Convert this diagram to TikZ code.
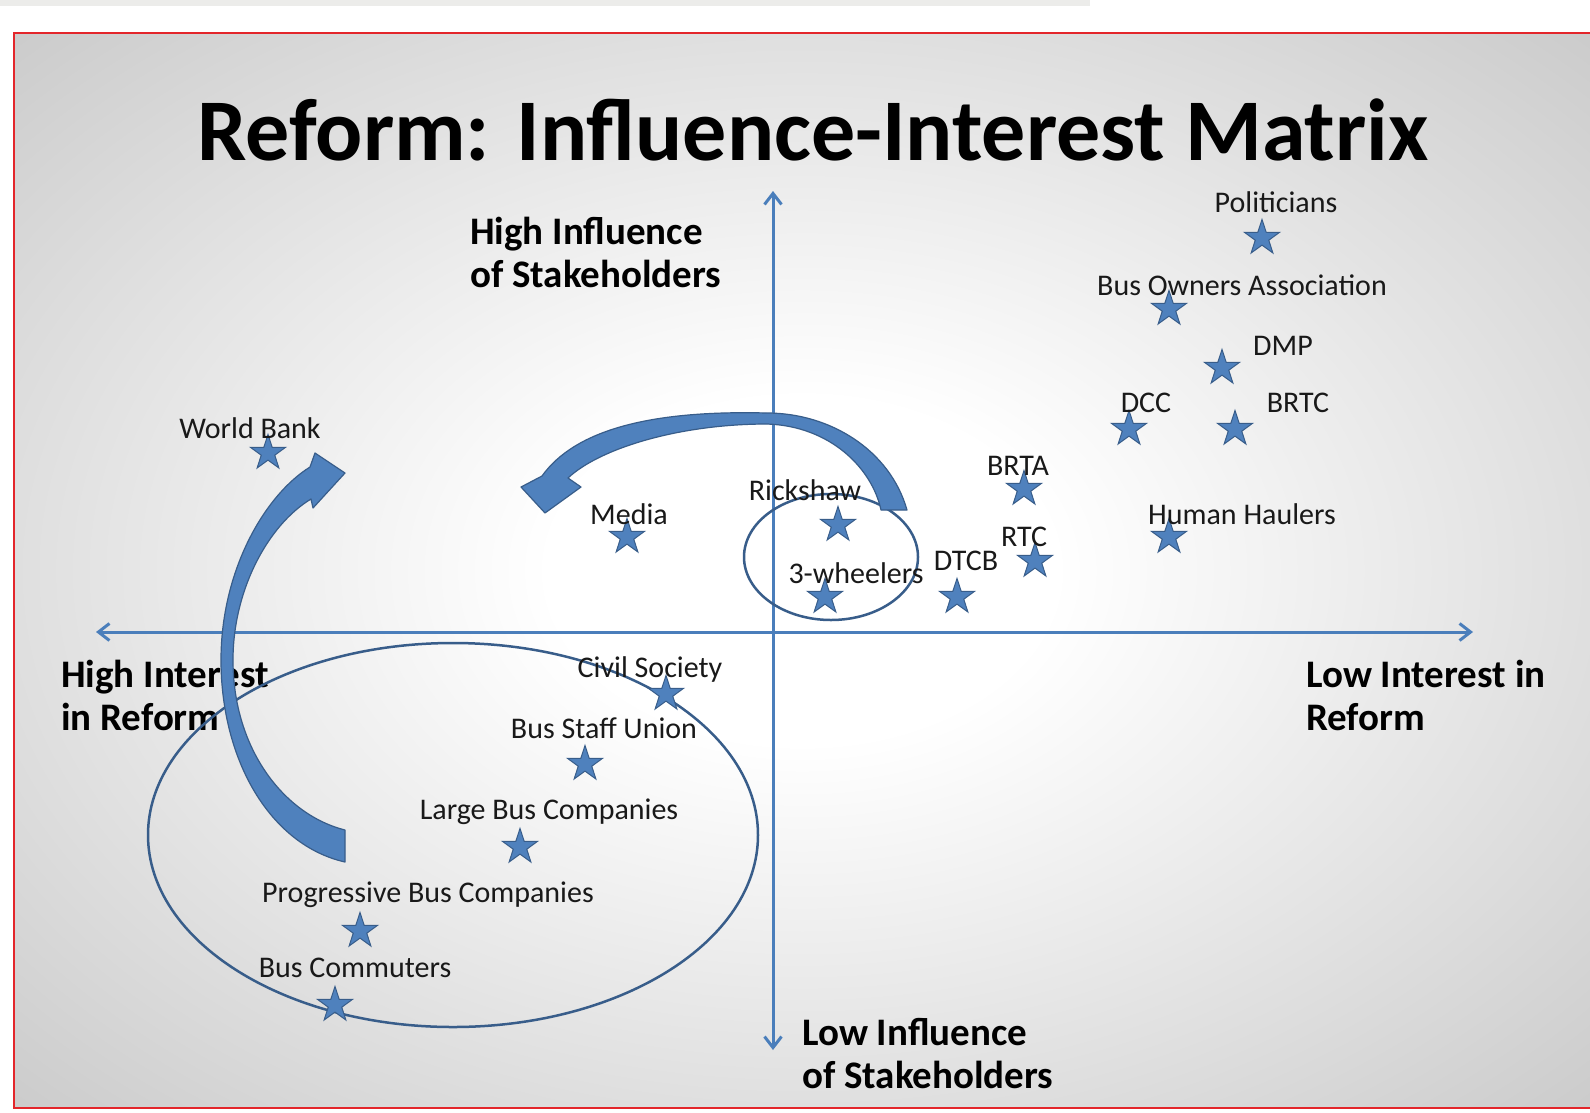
\documentclass[tikz,border=0pt]{standalone}
\usepackage{fontspec}
\setmainfont{Carlito}
\usetikzlibrary{shapes.geometric,arrows.meta}
\definecolor{axisblue}{HTML}{4A7EBB}
\definecolor{fillblue}{HTML}{4F81BD}
\definecolor{lineblue}{HTML}{385D8A}
\definecolor{slidered}{HTML}{E3262B}
\definecolor{stripgray}{HTML}{ECECEA}
\colorlet{bgmid}{black!31}
\colorlet{bgedge}{black!46}
\pgfdeclareradialshading{slidebg}{\pgfpoint{0bp}{0bp}}{color(0bp)=(white); color(8bp)=(white); color(50bp)=(bgmid); color(72bp)=(bgedge)}
\begin{document}
\begin{tikzpicture}[x=1pt,y=-1pt,
  stk/.style={star,star points=5,star point ratio=2.6,minimum size=37pt,inner sep=0pt,fill=fillblue,draw=lineblue,line width=1pt},
  lbl/.style={font=\fontsize{30}{34}\selectfont,text=black!90,inner sep=0pt},
  axislbl/.style={font=\fontsize{39}{43}\selectfont\bfseries,align=left,inner sep=0pt,anchor=west},
  axis/.style={axisblue,line width=3pt,{Straight Barb[length=11pt,width=17pt]}-{Straight Barb[length=11pt,width=17pt]}},
  ring/.style={lineblue,line width=2.5pt},
  bendarrow/.style={fill=fillblue,draw=lineblue,line width=1.2pt,line join=round}]
  \useasboundingbox (0,0) rectangle (1590,1112);
  % slide background
  \fill[white] (0,0) rectangle (1590,1112);
  \fill[stripgray] (0,0) rectangle (1090,6);
  \shade[shading=slidebg] (14,33) rectangle (1590,1108);
  \draw[slidered,line width=2.5pt] (1592,33) -- (14,33) -- (14,1108) -- (1592,1108);
  % title
  \node[font=\fontsize{88}{100}\selectfont\bfseries,inner sep=0pt] (title) at (813,130) {Reform: Influence-Interest Matrix};
  % axes
  \coordinate (top) at (773,191);
  \coordinate (bot) at (773,1050);
  \coordinate (lft) at (96,632);
  \coordinate (rgt) at (1473,632);
  \draw[axis] (top) -- (bot);
  \draw[axis] (lft) -- (rgt);
  \node[axislbl] (hiinf) at (470,252) {High Influence\\of Stakeholders};
  \node[axislbl] (hiint) at (61,695) {High Interest\\in Reform};
  \node[axislbl] (loint) at (1306,695) {Low Interest in\\Reform};
  \node[axislbl] (loinf) at (802,1054) {Low Influence\\of Stakeholders};
  % groups
  \draw[ring] (453,835) ellipse [x radius=305, y radius=192];
  \draw[ring] (831,557) ellipse [x radius=87, y radius=63];
  % curved arrows
  \filldraw[bendarrow] (345,862) .. controls (270,845) and (221,760) .. (221,660)
    .. controls (221,570) and (265,495) .. (310,467) -- (315,453) -- (345,473) -- (313,508) -- (311,499)
    .. controls (268,525) and (233,590) .. (233,660)
    .. controls (233,750) and (285,815) .. (345,830) -- cycle;
  \filldraw[bendarrow] (907,510) .. controls (890,450) and (830,413) .. (767,413)
    .. controls (650,410) and (575,430) .. (542,476) -- (521,487) -- (545,513) -- (581,487) -- (568,478)
    .. controls (600,448) and (680,424) .. (767,424)
    .. controls (830,426) and (872,468) .. (881,510) -- cycle;
  % stakeholders
  \node[stk] (pol) at (1262,238) {};
  \node[lbl] (polL) at (1276,202) {Politicians};
  \node[stk] (boa) at (1169,309) {};
  \node[lbl] (boaL) at (1242,285) {Bus Owners Association};
  \node[stk] (dmp) at (1222,368) {};
  \node[lbl] (dmpL) at (1283,346) {DMP};
  \node[stk] (dcc) at (1129,429) {};
  \node[lbl] (dccL) at (1146,403) {DCC};
  \node[stk] (brtc) at (1235,429) {};
  \node[lbl] (brtcL) at (1298,403) {BRTC};
  \node[stk] (brta) at (1024,489) {};
  \node[lbl] (brtaL) at (1018,466) {BRTA};
  \node[stk] (hh) at (1169,537) {};
  \node[lbl] (hhL) at (1242,514) {Human Haulers};
  \node[stk] (rtc) at (1035,561) {};
  \node[lbl] (rtcL) at (1024,537) {RTC};
  \node[stk] (dtcb) at (957,597) {};
  \node[lbl] (dtcbL) at (966,561) {DTCB};
  \node[stk] (rick) at (838,525) {};
  \node[lbl] (rickL) at (805,490) {Rickshaw};
  \node[stk] (three) at (825,597) {};
  \node[lbl] (threeL) at (856,573) {3-wheelers};
  \node[stk] (media) at (627,537) {};
  \node[lbl] (mediaL) at (629,514) {Media};
  \node[stk] (wb) at (268,453) {};
  \node[lbl] (wbL) at (250,428) {World Bank};
  \node[stk] (civ) at (666,694) {};
  \node[lbl] (civL) at (650,669) {Civil Society};
  \node[stk] (bsu) at (585,764) {};
  \node[lbl] (bsuL) at (604,728) {Bus Staff Union};
  \node[stk] (lbc) at (520,847) {};
  \node[lbl] (lbcL) at (549,812) {Large Bus Companies};
  \node[stk] (pbc) at (360,931) {};
  \node[lbl] (pbcL) at (428,895) {Progressive Bus Companies};
  \node[stk] (com) at (335,1005) {};
  \node[lbl] (comL) at (355,968) {Bus Commuters};
\end{tikzpicture}
\end{document}
